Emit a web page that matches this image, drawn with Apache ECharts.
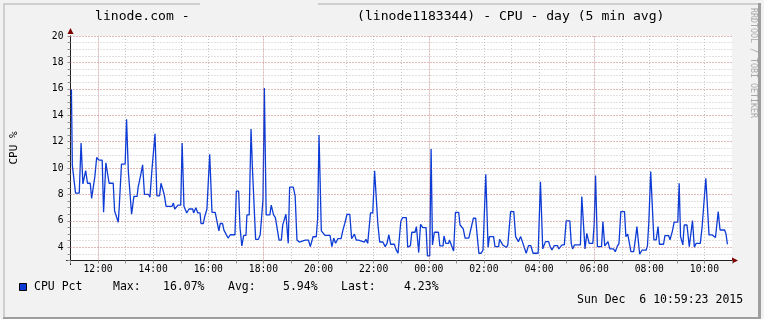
<!DOCTYPE html>
<html>
<head>
<meta charset="utf-8">
<script src="https://cdn.jsdelivr.net/npm/echarts@6/dist/echarts.min.js"></script>
<style>
html,body{margin:0;padding:0;background:#f2f2f2;}
#c{width:764px;height:319px;}
</style>
</head>
<body>
<div id="c"></div>
<script>
// Samples: [minutes since Sat 11:00, CPU %] (5-min averages)
const samples1100to1630 = [
[2,15.96],[4,10.2],[8,10.2],[11,8.1],[19,8.1],[23,11.9],[27,8.8],[31,8.8],[33,9.8],[37,8.85],[43,8.85],[46,7.7],[50,7.7],[53,9.35],[57,10.8],[62,10.6],[69,10.6],[72,6.65],[77,10.4],[81,10.4],[84,8.85],[93,8.85],[96,6.75],[99,6.75],[104,5.9],[106,7.0],[111,10.3],[119,10.3],[122,13.7],[126,9.7],[130,9.7],[133,6.5],[138,7.85],[145,7.85],[147,8.5],[150,8.5],[153,9.5],[157,10.25],[161,8.0],[170,8.0],[173,7.8],[177,9.75],[181,9.75],[184,12.6],[188,7.9],[194,7.9],[197,8.85],[201,8.85],[204,8.0],[208,7.1],[221,7.1],[224,7.35],[227,6.9],[231,6.9],[234,7.2],[240,7.2],[243,11.9],[247,7.1],[253,6.6],[258,6.9],[266,6.9],[268,6.6],[273,7.0],[277,6.6],[282,6.6],[284,5.8],[289,5.8],[292,6.3],[297,6.9],[301,6.9],[303,11.05],[308,6.65],[315,6.65],[319,6.5],[323,5.25],[326,5.8],[331,5.8],[334,5.3],[338,5.3]
];
const samples1630to2220 = [
[343,4.7],[348,4.95],[358,4.95],[361,8.25],[366,8.25],[369,5.5],[373,4.1],[377,4.9],[382,4.9],[384,6.45],[389,6.45],[393,12.95],[396,10.0],[400,10.0],[403,4.6],[409,4.6],[413,4.95],[416,4.95],[419,7.6],[422,16.07],[426,6.45],[434,6.45],[437,7.2],[442,6.45],[446,6.25],[454,4.55],[459,4.55],[462,5.7],[465,5.7],[469,6.5],[474,4.3],[477,8.55],[485,8.55],[489,7.9],[493,4.55],[498,4.4],[502,4.55],[511,4.55],[514,4.7],[518,4.55],[522,4.05],[528,4.8],[535,4.8],[538,6.2],[541,12.5],[546,5.25],[549,5.25],[554,4.9],[565,4.9],[569,4.05],[573,4.7],[577,4.3],[582,4.65],[589,4.65],[593,5.3],[597,5.8],[602,6.5],[608,6.5],[612,4.65],[615,4.65],[618,5.0],[622,4.55],[627,4.55],[631,4.4],[640,4.4],[643,4.6],[647,4.3],[650,4.3],[653,6.6],[658,6.6],[662,9.8],[665,9.8],[669,5.8],[673,4.4],[680,4.4]
];
const samples2220to0520 = [
[685,4.05],[689,4.3],[693,4.95],[697,4.23],[705,4.23],[709,3.8],[713,3.55],[716,3.55],[719,5.95],[723,6.25],[731,6.25],[734,4.0],[740,4.13],[743,5.14],[750,5.14],[753,5.57],[758,3.6],[762,5.74],[767,5.49],[774,5.49],[777,3.35],[782,3.35],[785,11.45],[788,4.18],[792,5.14],[801,5.14],[804,4.1],[811,4.1],[813,4.86],[817,4.3],[823,4.3],[825,4.56],[828,4.56],[834,3.72],[838,6.65],[845,6.65],[848,5.69],[851,5.69],[855,5.39],[859,4.69],[867,4.69],[870,4.74],[877,6.2],[882,6.2],[885,5.0],[889,3.55],[894,3.55],[898,3.78],[901,3.78],[904,9.53],[909,4.0],[912,4.81],[921,4.81],[924,4.05],[932,4.05],[934,4.61],[938,4.61],[941,4.18],[949,3.98],[952,4.18],[956,4.18],[958,6.7],[965,6.7],[969,4.81],[973,4.81],[975,4.43],[980,4.81],[983,4.81],[986,4.18],[992,3.55],[997,4.13],[1002,4.13],[1007,3.55],[1018,3.55],[1023,8.97],[1028,3.88],[1034,4.43],[1041,4.43]
];
const samples0520to1100 = [
[1044,4.05],[1048,3.8],[1053,4.13],[1060,4.13],[1063,3.88],[1066,3.88],[1070,4.18],[1075,4.18],[1079,6.0],[1087,6.0],[1090,4.3],[1093,3.88],[1097,4.18],[1110,4.18],[1113,7.84],[1117,7.84],[1120,3.88],[1124,5.06],[1129,4.3],[1137,4.3],[1140,5.74],[1143,9.43],[1147,4.05],[1156,4.05],[1159,5.95],[1163,4.1],[1170,4.43],[1174,3.88],[1182,3.88],[1186,3.67],[1190,4.05],[1194,4.3],[1198,6.7],[1206,6.7],[1209,4.81],[1213,5.0],[1217,5.0],[1220,3.67],[1226,3.67],[1230,4.69],[1233,5.57],[1236,5.57],[1239,3.47],[1244,3.78],[1253,3.78],[1256,4.13],[1259,5.95],[1263,9.73],[1267,9.73],[1270,4.56],[1275,4.56],[1279,5.57],[1282,4.23],[1291,4.23],[1294,4.89],[1302,4.89],[1305,4.56],[1310,5.19],[1314,5.9],[1322,5.9],[1325,8.85],[1328,4.81],[1333,4.18],[1336,5.69],[1342,5.69],[1347,4.05],[1350,4.05],[1354,6.02],[1358,4.0],[1362,4.3],[1371,4.3],[1375,5.57],[1378,5.57],[1383,9.23],[1386,9.23],[1390,4.94],[1397,4.94],[1401,5.01],[1404,4.74],[1408,4.74],[1410,6.7],[1414,5.31],[1424,5.31],[1427,5.0],[1430,4.23]
];
const startHour = 11;              // axis starts at 11:00
const majorGridMinutes = [60, 420, 780, 1140];   // 12:00, 18:00, 00:00, 06:00
const majorGridValues = [4, 6, 8, 10, 12, 14, 16, 18, 20];
const titleLeft = 'linode.com -';
const titleRight = '(linode1183344) - CPU - day (5 min avg)';
const legendName = 'CPU Pct';
const legendStats = ['Max:', '16.07%', 'Avg:', '5.94%', 'Last:', '4.23%'];
const dateText = 'Sun Dec  6 10:59:23 2015';

const allSamples = [].concat(samples1100to1630, samples1630to2220, samples2220to0520, samples0520to1100);
const MONO = 'DejaVu Sans Mono';
const lineColor = '#0c3bd6';

const chart = echarts.init(document.getElementById('c'), null, {renderer: 'canvas'});

function pad(n){ return (n < 10 ? '0' : '') + n; }

const markData = majorGridMinutes.map(m => ({xAxis: m})).concat(majorGridValues.map(v => ({yAxis: v})));

const legendX = [113, 163, 228, 283, 341, 404];

const graphic = [
  // frame shading
  {type:'rect', shape:{x:3, y:3, width:197, height:2}, style:{fill:'#cfcfcf'}, silent:true},
  {type:'rect', shape:{x:318, y:3, width:441, height:2}, style:{fill:'#cfcfcf'}, silent:true},
  {type:'rect', shape:{x:3, y:3, width:2, height:314}, style:{fill:'#cfcfcf'}, silent:true},
  {type:'rect', shape:{x:758, y:3, width:3, height:316}, style:{fill:'#9e9e9e'}, silent:true},
  {type:'rect', shape:{x:3, y:317, width:758, height:2}, style:{fill:'#9e9e9e'}, silent:true},
  // titles
  {type:'text', x:95, y:17, style:{text:titleLeft, font:'13.1px "' + MONO + '"', fill:'#000', textVerticalAlign:'middle'}, silent:true},
  {type:'text', x:357, y:17, style:{text:titleRight, font:'13.1px "' + MONO + '"', fill:'#000', textVerticalAlign:'middle'}, silent:true},
  // watermark
  {type:'text', x:753, y:8, rotation:-Math.PI/2, style:{text:'RRDTOOL / TOBI OETIKER', font:'8.3px "' + MONO + '"', fill:'#a8a8a8', textAlign:'left', textVerticalAlign:'middle'}, silent:true},
  // unit
  {type:'text', x:14, y:148, rotation:Math.PI/2, style:{text:'CPU %', font:'11px "' + MONO + '"', fill:'#000', textAlign:'center', textVerticalAlign:'middle'}, silent:true},
  // axis extensions and arrows
  {type:'line', shape:{x1:66, y1:260.5, x2:71, y2:260.5}, style:{stroke:'#202020', lineWidth:1}, silent:true},
  {type:'line', shape:{x1:70.5, y1:260, x2:70.5, y2:265}, style:{stroke:'#202020', lineWidth:1}, silent:true},
  {type:'polygon', shape:{points:[[732,257.5],[738,260.5],[732,263.5]]}, style:{fill:'#7f0000'}, silent:true},
  {type:'polygon', shape:{points:[[67.5,34],[70.5,28],[73.5,34]]}, style:{fill:'#7f0000'}, silent:true},
  // legend
  {type:'rect', shape:{x:19.5, y:283.5, width:7, height:7}, style:{fill:lineColor, stroke:'#000', lineWidth:1}, silent:true},
  {type:'text', x:34, y:287, style:{text:legendName, font:'11.5px "' + MONO + '"', fill:'#000', textVerticalAlign:'middle'}, silent:true},
  {type:'text', x:577, y:300, style:{text:dateText, font:'11.5px "' + MONO + '"', fill:'#000', textVerticalAlign:'middle'}, silent:true}
];
legendStats.forEach((s, i) => {
  graphic.push({type:'text', x:legendX[i], y:287, style:{text:s, font:'11.5px "' + MONO + '"', fill:'#000', textVerticalAlign:'middle'}, silent:true});
});

const option = {
  animation: false,
  backgroundColor: '#f2f2f2',
  grid: {left: 70.5, right: 32, top: 36, bottom: 58.5, show: true, backgroundColor: '#ffffff', borderWidth: 0},
  xAxis: {
    type: 'value', min: 0, max: 1440, interval: 60,
    axisLine: {show: true, onZero: false, lineStyle: {color: '#202020', width: 1}},
    axisTick: {show: true, length: 3, lineStyle: {color: '#909090'}},
    axisLabel: {
      fontFamily: MONO, fontSize: 9.7, color: '#000', margin: 4,
      formatter: v => { const h = (startHour + v / 60) % 24; return (h % 2 === 0) ? pad(h) + ':00' : ''; }
    },
    splitLine: {show: true, showMinLine: false, showMaxLine: false, lineStyle: {color: '#c4c4c4', type: [1, 2], width: 1}}
  },
  yAxis: {
    type: 'value', min: 3, max: 20, interval: 0.5,
    axisLine: {show: true, onZero: false, lineStyle: {color: '#202020', width: 1}},
    axisTick: {show: true, length: 3, lineStyle: {color: '#909090'}},
    axisLabel: {
      fontFamily: MONO, fontSize: 9.7, color: '#000', margin: 7,
      formatter: v => (v >= 4 && v % 2 === 0) ? String(v) : ''
    },
    splitLine: {show: true, showMinLine: false, lineStyle: {color: '#c4c4c4', type: [1, 2], width: 1}}
  },
  series: [
    {
      type: 'line', data: [], z: 1, silent: true,
      markLine: {
        silent: true, symbol: ['none', 'none'], animation: false,
        label: {show: false},
        lineStyle: {color: 'rgba(222,80,80,0.55)', type: [1, 2], width: 1},
        emphasis: {disabled: true},
        data: markData
      }
    },
    {
      type: 'line', name: legendName, data: allSamples, z: 3,
      symbol: 'none', showSymbol: false, silent: true,
      lineStyle: {color: lineColor, width: 1.3}
    }
  ],
  graphic: graphic
};
chart.setOption(option);
</script>
</body>
</html>
